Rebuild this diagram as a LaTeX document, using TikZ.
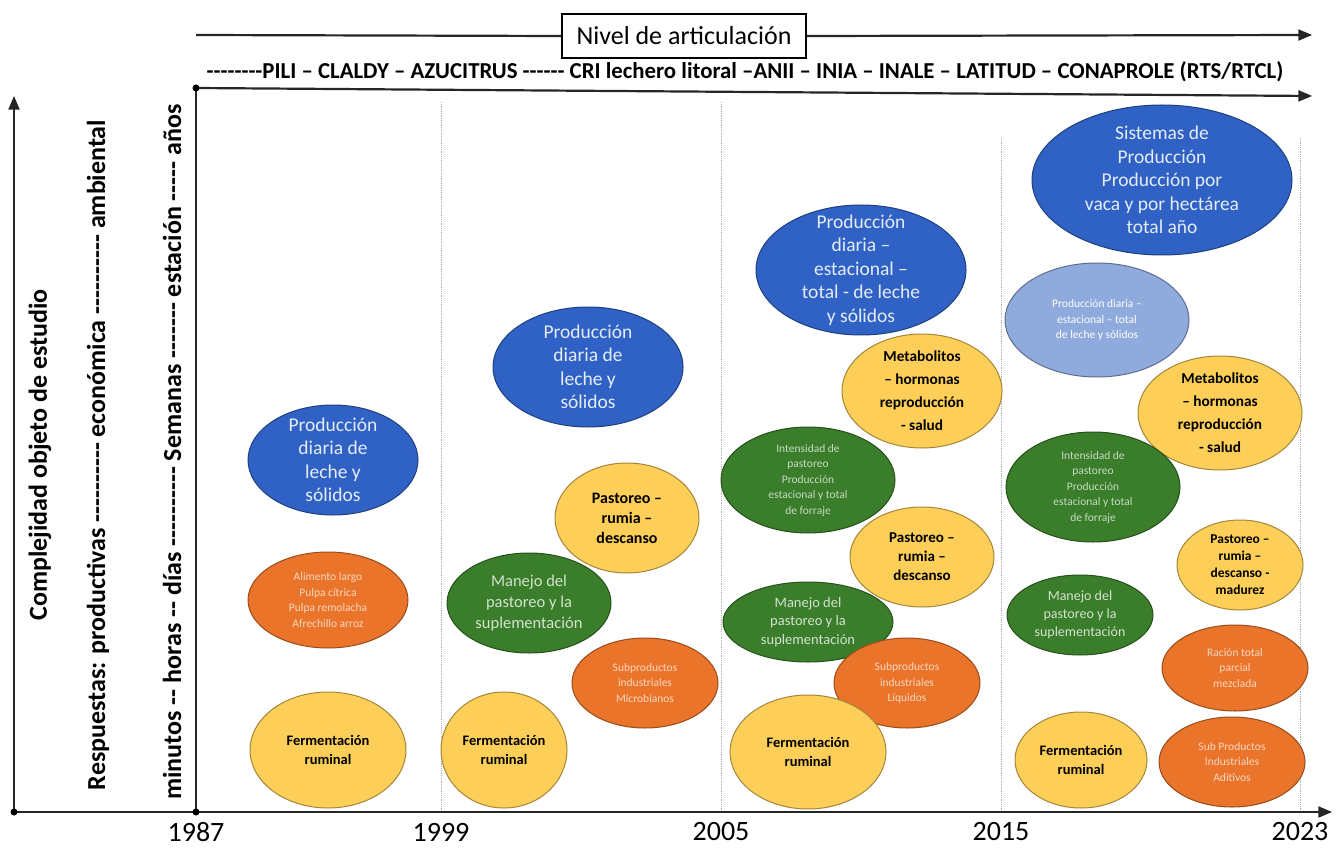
\documentclass[tikz,border=0pt]{standalone}
\usepackage{fontspec}
\setmainfont{Carlito}[Ligatures=TeXOff]
\usetikzlibrary{arrows,shapes,positioning}
\definecolor{cblue}{RGB}{47,98,196}
\definecolor{clblue}{RGB}{143,170,220}
\definecolor{corange}{RGB}{234,116,42}
\definecolor{cyellow}{RGB}{253,206,88}
\definecolor{cgreen}{RGB}{58,125,42}
\tikzset{arrows={-triangle 45}}
\tikzset{
  axis/.style={line width=2.2pt, black!85},
  grid/.style={densely dotted, gray!60, line width=0.8pt, -},
  ell/.style={ellipse, draw=#1!65!black, fill=#1, line width=1pt, inner sep=0pt},
  bluetxt/.style={align=center, text=white!88!cblue, font=\fontsize{19.5}{23.5}\selectfont},
  smalltxt/.style={align=center, text=white!72!#1, font=\fontsize{11.5}{15.5}\selectfont},
  yeltxt/.style 2 args={align=center, font=\bfseries\fontsize{#1}{#2}\selectfont},
  greentxt/.style={align=center, text=white!78!cgreen, font=\fontsize{16.5}{21}\selectfont},
  year/.style={font=\fontsize{28}{28}\selectfont, inner sep=1pt},
  sidelbl/.style={rotate=90, font=\bfseries\fontsize{26}{26}\selectfont}
}

\begin{document}
\begin{tikzpicture}[x=1pt, y=-1pt]
    \useasboundingbox (0,0) rectangle (1340,850);
    % axes
    \coordinate (O) at (14,812);
    \coordinate (Otop) at (14,96);
    \coordinate (Oend) at (1332,812);
    \coordinate (A) at (196,812);
    \coordinate (Atop) at (196,88);
    \coordinate (Aend) at (1312,96);
    \coordinate (Nstart) at (196,35);
    \coordinate (Nend) at (1312,35);
    \foreach \x/\y in {441/102,721/102,1001/138,1300/138}
        \draw[grid] (\x,\y) -- (\x,810);
    \draw[axis] (O) -- (Otop);
    \draw[axis] (O) -- (Oend);
    \draw[axis, -] (A) -- (Atop);
    \draw[axis] (Atop) -- (Aend);
    \fill (O) circle (3.5) (A) circle (3.5) (Atop) circle (3.5);
    \node[draw, line width=1.2pt, fill=white, minimum width=244, minimum height=44,
          font=\fontsize{26}{26}\selectfont] (nivel) at (684,36) {Nivel de articulación};
    \draw[axis, -] (Nstart) -- (nivel.west);
    \draw[axis] (nivel.east) -- (Nend);
    \node[font=\bfseries\fontsize{22.8}{22.8}\selectfont] (inst) at (745,72)
        {{-}{-}{-}{-}{-}{-}{-}{-}PILI – CLALDY – AZUCITRUS {-}{-}{-}{-}{-}{-} CRI lechero litoral –ANII – INIA – INALE – LATITUD – CONAPROLE (RTS/RTCL)};
    % years
    \node[year] (y1987) at (196,832) {1987};
    \node[year] (y1999) at (441,832) {1999};
    \node[year] (y2005) at (721,832) {2005};
    \node[year] (y2015) at (1001,832) {2015};
    \node[year] (y2023) at (1300,832) {2023};
    % side labels
    \node[sidelbl] (compl) at (40,455) {Complejidad objeto de estudio};
    \node[sidelbl] (resp) at (98,455) {Respuestas: productivas {-}{-}{-}{-}{-}{-}{-}{-}{-}{-} económica {-}{-}{-}{-}{-}{-}{-}{-}{-}{-} ambiental};
    \node[sidelbl] (tiempo) at (172,452) {minutos {-}{-} horas {-}{-} días {-}{-}{-}{-}{-}{-}{-}{-}{-}{-} Semanas {-}{-}{-}{-}{-}{-}{-} estación {-}{-}{-}{-}{-} años};

    % 1987 - 1999
    \node[ell=cblue, minimum width=170, minimum height=110] (pd1) at (333,460) {};
    \node[bluetxt] at (pd1) {Producción\\diaria de\\leche y\\sólidos};
    \node[ell=corange, minimum width=160, minimum height=96] (al1) at (328,600) {};
    \node[smalltxt=corange] at (al1) {Alimento largo\\Pulpa cítrica\\Pulpa remolacha\\Afrechillo arroz};
    \node[ell=cyellow, minimum width=156, minimum height=116] (fr1) at (328,750) {};
    \node[yeltxt={14.5}{19}] at (fr1) {Fermentación\\ruminal};

    % 1999 - 2005
    \node[ell=cblue, minimum width=190, minimum height=120] (pd2) at (588,367) {};
    \node[bluetxt] at (pd2) {Producción\\diaria de\\leche y\\sólidos};
    \node[ell=cyellow, minimum width=144, minimum height=110] (pa2) at (627,518) {};
    \node[yeltxt={16}{20}] at (pa2) {Pastoreo –\\rumia –\\descanso};
    \node[ell=cgreen, minimum width=164, minimum height=100] (mp2) at (529,603) {};
    \node[greentxt] at (mp2) {Manejo del\\pastoreo y la\\suplementación};
    \node[ell=corange, minimum width=146, minimum height=90] (sp2) at (645,683) {};
    \node[smalltxt=corange] at (sp2) {Subproductos\\industriales\\Microbianos};
    \node[ell=cyellow, minimum width=126, minimum height=116] (fr2) at (504,750) {};
    \node[yeltxt={14.5}{19}] at (fr2) {Fermentación\\ruminal};

    % 2005 - 2015
    \node[ell=cblue, minimum width=210, minimum height=130] (pd3) at (861,270) {};
    \node[bluetxt] at (pd3) {Producción\\diaria –\\estacional –\\total - de leche\\y sólidos};
    \node[ell=cyellow, minimum width=160, minimum height=114] (me3) at (922,391) {};
    \node[yeltxt={15.3}{23}] at (me3) {Metabolitos\\– hormonas\\reproducción\\- salud};
    \node[ell=cgreen, minimum width=174, minimum height=106] (ip3) at (808,480) {};
    \node[smalltxt=cgreen] at (ip3) {Intensidad de\\pastoreo\\Producción\\estacional y total\\de forraje};
    \node[ell=cyellow, minimum width=144, minimum height=100] (pa3) at (922,557) {};
    \node[yeltxt={15}{19}] at (pa3) {Pastoreo –\\rumia –\\descanso};
    \node[ell=cgreen, minimum width=170, minimum height=80] (mp3) at (808,622) {};
    \node[greentxt, font=\fontsize{14.5}{18.5}\selectfont] at (mp3) {Manejo del\\pastoreo y la\\suplementación};
    \node[ell=corange, minimum width=146, minimum height=90] (sp3) at (907,683) {};
    \node[smalltxt=corange] at (sp3) {Subproductos\\industriales\\Líquidos};
    \node[ell=cyellow, minimum width=156, minimum height=114] (fr3) at (808,752) {};
    \node[yeltxt={14.5}{19}] at (fr3) {Fermentación\\ruminal};

    % 2015 - 2023
    \node[ell=cblue, minimum width=260, minimum height=150] (si4) at (1162,180) {};
    \node[bluetxt] at (si4) {Sistemas de\\Producción\\Producción por\\vaca y por hectárea\\total año};
    \node[ell=clblue, minimum width=184, minimum height=114] (pd4) at (1097,320) {};
    \node[smalltxt=clblue, text=white] at (pd4) {Producción diaria –\\estacional – total\\de leche y sólidos};
    \node[ell=cyellow, minimum width=164, minimum height=114] (me4) at (1220,413) {};
    \node[yeltxt={15.3}{23}] at (me4) {Metabolitos\\– hormonas\\reproducción\\- salud};
    \node[ell=cgreen, minimum width=174, minimum height=110] (ip4) at (1093,487) {};
    \node[smalltxt=cgreen] at (ip4) {Intensidad de\\pastoreo\\Producción\\estacional y total\\de forraje};
    \node[ell=cyellow, minimum width=126, minimum height=90] (pa4) at (1240,565) {};
    \node[yeltxt={13.5}{17}] at (pa4) {Pastoreo –\\rumia –\\descanso -\\madurez};
    \node[ell=cgreen, minimum width=146, minimum height=80] (mp4) at (1080,615) {};
    \node[greentxt, font=\fontsize{14}{18}\selectfont] at (mp4) {Manejo del\\pastoreo y la\\suplementación};
    \node[ell=corange, minimum width=146, minimum height=86] (rt4) at (1235,668) {};
    \node[smalltxt=corange] at (rt4) {Ración total\\parcial\\mezclada};
    \node[ell=cyellow, minimum width=132, minimum height=96] (fr4) at (1081,760) {};
    \node[yeltxt={14.5}{19}] at (fr4) {Fermentación\\ruminal};
    \node[ell=corange, minimum width=146, minimum height=90] (sb4) at (1232,762) {};
    \node[smalltxt=corange] at (sb4) {Sub Productos\\Industriales\\Aditivos};
\end{tikzpicture}
\end{document}
